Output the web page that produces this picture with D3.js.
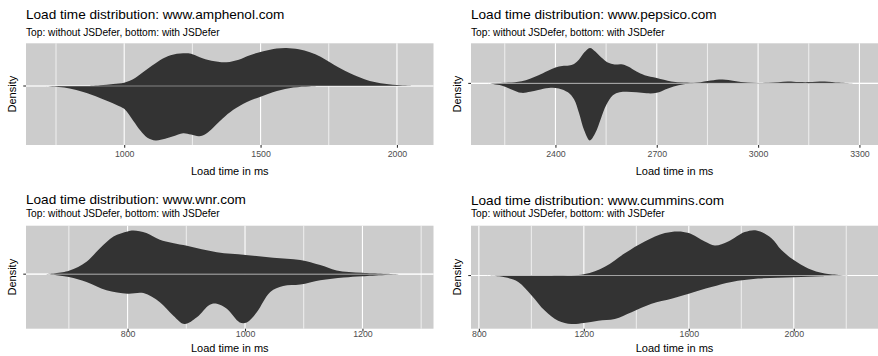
<!DOCTYPE html>
<html><head><meta charset="utf-8">
<script src="https://cdn.jsdelivr.net/npm/d3@7"></script>
<style>body{margin:0;background:#fff;} svg{display:block;font-family:"Liberation Sans",Arial,sans-serif;}</style>
</head><body><svg id="c" width="878" height="356"></svg>
<script>
// ---------------- DATA ----------------
const sites = ["www.amphenol.com", "www.pepsico.com", "www.wnr.com", "www.cummins.com"];
const subtitle = "Top: without JSDefer, bottom: with JSDefer";
const xTitle = "Load time in ms";
const yTitle = "Density";

// visible x ranges (ms)
const amphenolRange = [640, 2134];
const pepsicoRange = [2150, 3355];
const wnrRange = [627, 1321];
const cumminsRange = [770, 2321];

// tick labels (major) and minor gridlines
const amphenolTicks = [1000, 1500, 2000];
const amphenolMinor = [750, 1250, 1750];
const pepsicoTicks = [2400, 2700, 3000, 3300];
const pepsicoMinor = [2250, 2550, 2850, 3150];
const wnrTicks = [800, 1000, 1200];
const wnrMinor = [700, 900, 1100, 1300];
const cumminsTicks = [800, 1200, 1600, 2000];
const cumminsMinor = [1000, 1400, 1800, 2200];

// densities (relative units): [ms, density]; top = without JSDefer, bottom = with JSDefer
const amphenolWithout = [[860,0],[911,0.8],[960,2],[1000,3.3],[1040,8],[1070,14],[1100,20],[1131,26],[1170,31],[1216,33],[1245,32.5],[1277,29],[1320,25.5],[1375,24],[1420,26.5],[1461,31],[1510,35],[1559,37.7],[1595,38.3],[1640,37],[1681,34],[1720,29.5],[1754,24],[1790,18],[1828,12.7],[1860,9],[1889,6],[1940,2.8],[1999,1],[2040,0.3],[2066,0]];
const amphenolWith = [[708,0],[760,1],[800,2.5],[850,6],[911,12],[972,19],[1000,23],[1033,35],[1060,45],[1085,52],[1115,54.7],[1150,53],[1180,50.5],[1216,47.5],[1245,48.8],[1275,50.5],[1300,48],[1326,42],[1360,33],[1400,24],[1450,16],[1500,10.7],[1560,5],[1620,1.5],[1680,0.4],[1720,0]];

const pepsicoWithout = [[2210,0],[2260,0.8],[2300,2.2],[2350,8.3],[2400,16],[2420,17.5],[2440,18],[2455,19.5],[2470,24],[2485,31],[2502,35.7],[2518,32],[2536,26],[2555,21],[2575,19],[2595,19.3],[2615,17],[2640,12],[2664,8.3],[2700,5.5],[2743,2],[2780,0.8],[2820,0.9],[2860,3],[2895,4],[2930,2.5],[2970,0.8],[3030,0.6],[3088,2],[3120,1.4],[3150,1.3],[3197,2],[3240,0.8],[3280,0]];
const pepsicoWith = [[2200,0],[2240,2],[2270,6],[2299,9.5],[2325,8.5],[2349,6.5],[2380,4.5],[2410,5],[2437,9],[2455,16],[2470,30],[2485,47],[2502,57.3],[2518,50],[2535,35],[2550,22],[2570,12],[2590,9],[2610,8.5],[2640,9],[2670,10],[2700,9.5],[2725,6],[2750,3],[2780,0.8],[2820,0]];

const wnrWithout = [[662,0],[700,3.3],[730,12.3],[753,25.7],[776,37.3],[800,42.3],[810,43.3],[832,40.7],[855,34],[901,28],[952,21.7],[1001,19],[1048,16.3],[1094,14],[1128,9],[1156,3.7],[1200,1.3],[1258,0]];
const wnrWith = [[662,0],[700,2.7],[730,7.7],[764,16],[800,19.3],[827,18.7],[855,27.7],[878,41],[897,49.3],[918,42.7],[940,30.3],[952,29.3],[969,34.3],[991,47.7],[1003,47.7],[1020,37.7],[1043,17.7],[1065,11.7],[1094,10.3],[1128,6],[1168,3.3],[1200,2],[1264,0]];

const cumminsWithout = [[1051,0],[1200,1.3],[1280,8.7],[1356,22],[1432,33.7],[1509,42],[1559,43.7],[1600,42],[1661,33.7],[1699,29.7],[1750,33.7],[1813,43],[1858,44.7],[1915,37],[1953,25.3],[2000,15.3],[2055,7],[2118,2],[2220,0]];
const cumminsWith = [[823,0],[899,1.7],[950,6.3],[1001,19.7],[1051,34.7],[1102,44.7],[1153,48],[1200,47],[1255,44.7],[1318,43],[1382,36.3],[1458,28],[1534,23],[1600,18],[1686,11.3],[1763,6.3],[1864,3],[2000,1.7],[2105,0.7],[2194,0]];

// ---------------- LAYOUT ----------------
const panels = [
  {site: sites[0], range: amphenolRange, ticks: amphenolTicks, minor: amphenolMinor, top: amphenolWithout, bottom: amphenolWith},
  {site: sites[1], range: pepsicoRange, ticks: pepsicoTicks, minor: pepsicoMinor, top: pepsicoWithout, bottom: pepsicoWith},
  {site: sites[2], range: wnrRange, ticks: wnrTicks, minor: wnrMinor, top: wnrWithout, bottom: wnrWith},
  {site: sites[3], range: cumminsRange, ticks: cumminsTicks, minor: cumminsMinor, top: cumminsWithout, bottom: cumminsWith}
];
const layout = [
  {x0:26, x1:433.5, y0:43.3, y1:145, titleY:19, subY:36, tickY:157, axisTitleY:174.5, ylabX:12},
  {x0:471, x1:878, y0:43.3, y1:145, titleY:19, subY:36, tickY:157, axisTitleY:174.5, ylabX:457},
  {x0:26, x1:433.5, y0:225.7, y1:328.7, titleY:204, subY:217, tickY:336.5, axisTitleY:352, ylabX:12},
  {x0:471, x1:878, y0:225.7, y1:328.7, titleY:204.5, subY:217.3, tickY:336.5, axisTitleY:352, ylabX:457}
];

const svg = d3.select("#c");
svg.append("rect").attr("width", 878).attr("height", 356).attr("fill", "#fff");

panels.forEach((p, i) => {
  const L = layout[i];
  const g = svg.append("g");
  const x = d3.scaleLinear().domain(p.range).range([L.x0, L.x1]);
  const maxTop = d3.max(p.top, d => d[1]);
  const maxBot = d3.max(p.bottom, d => d[1]);
  const span = maxTop + maxBot;
  const y = d3.scaleLinear().domain([-maxBot - 0.05 * span, maxTop + 0.05 * span]).range([L.y1, L.y0]);

  g.append("rect").attr("x", L.x0).attr("y", L.y0).attr("width", L.x1 - L.x0).attr("height", L.y1 - L.y0).attr("fill", "#cccccc");
  g.selectAll(".mn").data(p.minor.filter(v => v >= p.range[0] && v <= p.range[1])).enter().append("line")
    .attr("x1", d => x(d)).attr("x2", d => x(d)).attr("y1", L.y0).attr("y2", L.y1)
    .attr("stroke", "#fff").attr("stroke-width", 0.7);
  g.selectAll(".mj").data(p.ticks).enter().append("line")
    .attr("x1", d => x(d)).attr("x2", d => x(d)).attr("y1", L.y0).attr("y2", L.y1)
    .attr("stroke", "#fff").attr("stroke-width", 1.1);
  g.append("line").attr("x1", L.x0).attr("x2", L.x1).attr("y1", y(0)).attr("y2", y(0)).attr("stroke", "#fff").attr("stroke-width", 1.1);

  const areaTop = d3.area().x(d => x(d[0])).y0(y(0)).y1(d => y(Math.max(0, d[1]))).curve(d3.curveCatmullRom.alpha(0.5));
  const areaBot = d3.area().x(d => x(d[0])).y0(y(0)).y1(d => y(-d[1])).curve(d3.curveCatmullRom.alpha(0.5));
  const clipId = "clip" + i;
  g.append("clipPath").attr("id", clipId).append("rect").attr("x", L.x0).attr("y", L.y0).attr("width", L.x1 - L.x0).attr("height", L.y1 - L.y0);
  const gc = g.append("g").attr("clip-path", `url(#${clipId})`);
  gc.append("path").datum(p.top).attr("d", areaTop).attr("fill", "#333333");
  gc.append("path").datum(p.bottom).attr("d", areaBot).attr("fill", "#333333");
  g.append("line").attr("x1", L.x0).attr("x2", L.x1).attr("y1", y(0)).attr("y2", y(0)).attr("stroke", "#fff").attr("stroke-opacity", 0.4).attr("stroke-width", 1.1);

  const ax = g.append("g").attr("transform", `translate(0,${L.y1})`)
    .call(d3.axisBottom(x).tickValues(p.ticks).tickSize(2.75).tickPadding(2).tickFormat(d3.format("d")));
  ax.select(".domain").remove();
  ax.selectAll(".tick line").attr("stroke", "#333").attr("stroke-width", 1.1);
  ax.selectAll(".tick text").attr("fill", "#4d4d4d").attr("font-size", 8.8).attr("font-family", null)
    .attr("dy", null).attr("y", L.tickY - L.y1);
  g.append("line").attr("x1", L.x0 - 2.75).attr("x2", L.x0).attr("y1", y(0)).attr("y2", y(0)).attr("stroke", "#333").attr("stroke-width", 1.1);

  g.append("text").attr("x", L.x0).attr("y", L.titleY).attr("font-size", 13.6).attr("fill", "#000")
    .text("Load time distribution: " + p.site);
  g.append("text").attr("x", L.x0).attr("y", L.subY).attr("font-size", 10.2).attr("fill", "#000")
    .text(subtitle);
  g.append("text").attr("x", (L.x0 + L.x1) / 2).attr("y", L.axisTitleY).attr("text-anchor", "middle")
    .attr("font-size", 11).attr("fill", "#000").text(xTitle);
  g.append("text").attr("transform", `translate(${L.ylabX},${(L.y0 + L.y1) / 2}) rotate(-90)`)
    .attr("text-anchor", "middle").attr("dy", "0.35em").attr("font-size", 11).attr("fill", "#000").text(yTitle);
});
</script></body></html>
